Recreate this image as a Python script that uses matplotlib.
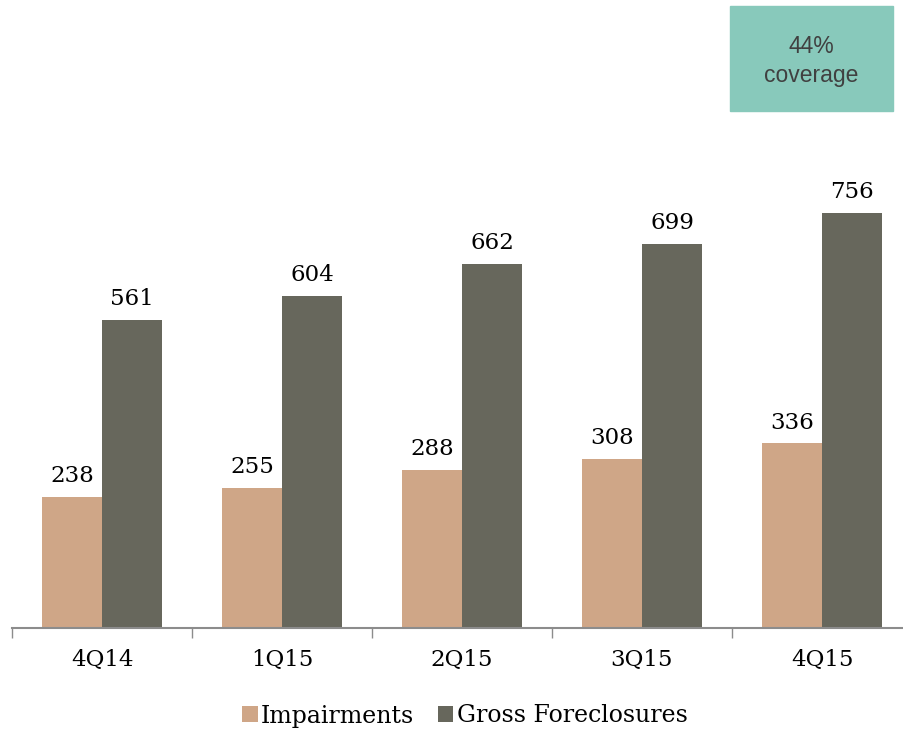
import numpy as np
import matplotlib.pyplot as plt
from matplotlib.patches import Rectangle

quarters = ['4Q14', '1Q15', '2Q15', '3Q15', '4Q15']
impairments = [238, 255, 288, 308, 336]
foreclosures = [561, 604, 662, 699, 756]

c_imp = '#CFA687'
c_fc = '#67675C'
serif = 'DejaVu Serif'

fig = plt.figure(figsize=(9.04, 7.31), dpi=100)
# the axis runs a bit past the right edge of the picture
ax = fig.add_axes([12 / 904, 1 - 628 / 731, 900 / 904, 478 / 731])

x = np.arange(len(quarters))
w = 1 / 3
b1 = ax.bar(x - w / 2, impairments, w, color=c_imp, label='Impairments')
b2 = ax.bar(x + w / 2, foreclosures, w, color=c_fc, label='Gross Foreclosures')

for bars, vals in ((b1, impairments), (b2, foreclosures)):
    for r, v in zip(bars, vals):
        ax.text(r.get_x() + r.get_width() / 2, v + 18, str(v), ha='center', va='bottom',
                fontsize=16.5, family=serif, color='black')

ax.set_xlim(-0.5, len(quarters) - 0.5)
ax.set_ylim(0, 870)
for s in ('top', 'right', 'left'):
    ax.spines[s].set_visible(False)
ax.spines['bottom'].set_color('#8c8c8c')
ax.spines['bottom'].set_linewidth(1.5)
ax.set_yticks([])
ax.set_xticks(np.arange(len(quarters) + 1) - 0.5, minor=False)
ax.set_xticklabels([])
ax.tick_params(axis='x', which='major', length=7, color='#8c8c8c', width=1)
ax.set_xticks(x, minor=True)
ax.set_xticklabels(quarters, minor=True, fontsize=16.5, family=serif)
ax.tick_params(axis='x', which='minor', length=0, pad=15)

fig.legend(handles=[b1, b2], loc='center', bbox_to_anchor=(465 / 904, 1 - 716 / 731),
           ncol=2, frameon=False, prop={'family': serif, 'size': 17},
           handlelength=0.65, handleheight=0.65, handletextpad=0.15, columnspacing=1.0)

fig.patches.append(Rectangle((730 / 904, 1 - 111 / 731), 163 / 904, 105 / 731,
                             transform=fig.transFigure, color='#88C9BB', zorder=0))
fig.text(811 / 904, 1 - 61 / 731, '44%\ncoverage', ha='center', va='center',
         fontsize=16.5, family='Liberation Sans', color='#404040', linespacing=1.3)

fig.savefig('out.png', dpi=100)
